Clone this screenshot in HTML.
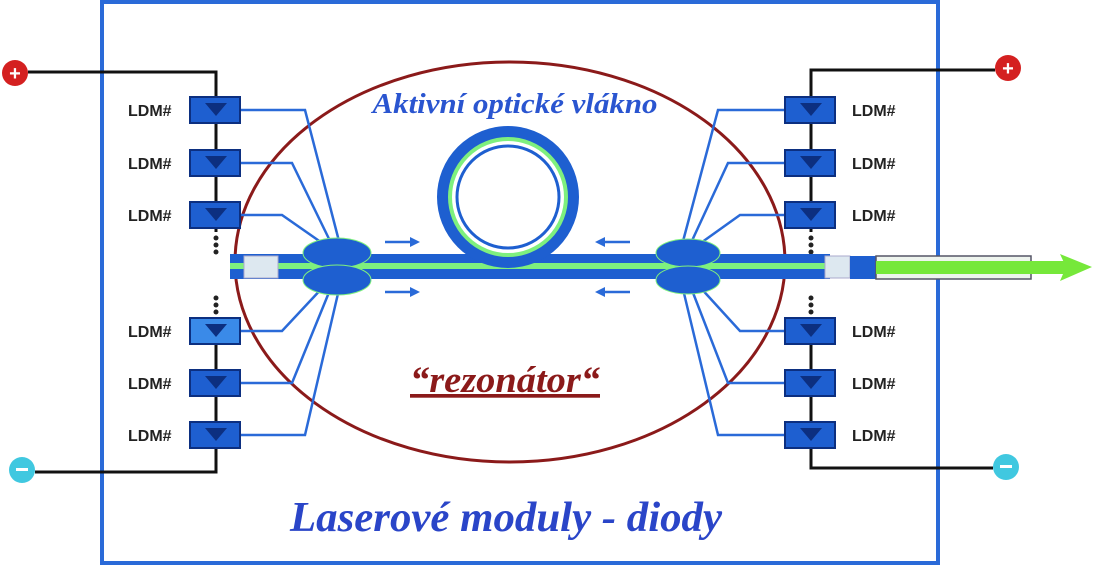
<!DOCTYPE html>
<html><head><meta charset="utf-8"><style>
html,body{margin:0;padding:0;background:#fff;}
svg{display:block;}
</style></head><body>
<svg width="1095" height="567" viewBox="0 0 1095 567" xmlns="http://www.w3.org/2000/svg">
<rect x="102" y="2" width="836" height="561" fill="#fff" stroke="#2a6ad8" stroke-width="4"/>
<ellipse cx="510" cy="262" rx="275" ry="200" fill="none" stroke="#8b1a1a" stroke-width="3"/>
<polyline points="28,72 216,72 216,472 35,472" fill="none" stroke="#111" stroke-width="3"/>
<polyline points="995,70 811,70 811,468 993,468" fill="none" stroke="#111" stroke-width="3"/>
<g fill="#fff" stroke="none"><rect x="206" y="232" width="20" height="88"/><rect x="801" y="232" width="20" height="88"/></g>
<g fill="#222">
<circle cx="216" cy="238" r="2.5"/><circle cx="216" cy="245" r="2.5"/><circle cx="216" cy="252" r="2.5"/>
<circle cx="216" cy="298" r="2.5"/><circle cx="216" cy="305" r="2.5"/><circle cx="216" cy="312" r="2.5"/>
<circle cx="811" cy="238" r="2.5"/><circle cx="811" cy="245" r="2.5"/><circle cx="811" cy="252" r="2.5"/>
<circle cx="811" cy="298" r="2.5"/><circle cx="811" cy="305" r="2.5"/><circle cx="811" cy="312" r="2.5"/>
</g>
<circle cx="15" cy="73" r="13" fill="#d42020"/><text x="15" y="80" font-family="Liberation Sans,sans-serif" font-size="20" font-weight="bold" fill="#fff" text-anchor="middle">+</text>
<circle cx="1008" cy="68" r="13" fill="#d42020"/><text x="1008" y="75" font-family="Liberation Sans,sans-serif" font-size="20" font-weight="bold" fill="#fff" text-anchor="middle">+</text>
<circle cx="22" cy="470" r="13" fill="#40c8e0"/><rect x="16" y="468" width="12" height="3" fill="#fff"/>
<circle cx="1006" cy="467" r="13" fill="#40c8e0"/><rect x="1000" y="465" width="12" height="3" fill="#fff"/>
<g stroke="#2a6ad8" stroke-width="2.5" fill="none">
<polyline points="240,110 305,110 340,245"/><polyline points="240,163 292,163 332,245"/><polyline points="240,215 282,215 325,245"/>
<polyline points="240,331 282,331 325,285"/><polyline points="240,383 292,383 332,285"/><polyline points="240,435 305,435 340,285"/>
<polyline points="785,110 718,110 682,245"/><polyline points="785,163 728,163 690,245"/><polyline points="785,215 740,215 698,245"/>
<polyline points="785,331 740,331 698,285"/><polyline points="785,383 728,383 690,285"/><polyline points="785,435 718,435 682,285"/>
</g>
<rect x="230" y="254" width="600" height="25" fill="#1e5fd0"/>
<rect x="230" y="263" width="600" height="6" fill="#7ef07e"/>
<rect x="244" y="256" width="34" height="22" fill="#dde8f0" stroke="#aac" stroke-width="1"/>
<rect x="825" y="256" width="25" height="22" fill="#dde8f0" stroke="#aac" stroke-width="1"/>
<rect x="850" y="256" width="26" height="23" fill="#1e5fd0"/>
<rect x="876" y="256" width="155" height="23" fill="#eef4ee" stroke="#556" stroke-width="1.5"/>
<rect x="876" y="261" width="190" height="13" fill="#76e83a"/>
<polygon points="1060,254 1092,267 1060,281 1066,267" fill="#76e83a"/>
<circle cx="508" cy="197" r="64" fill="none" stroke="#1e5fd0" stroke-width="14"/>
<circle cx="508" cy="197" r="58" fill="none" stroke="#7ef07e" stroke-width="4"/>
<circle cx="508" cy="197" r="51" fill="none" stroke="#1e5fd0" stroke-width="3"/>
<g fill="#1e5fd0" stroke="#7ef07e" stroke-width="1">
<ellipse cx="337" cy="253" rx="34" ry="15"/><ellipse cx="337" cy="280" rx="34" ry="15"/>
<ellipse cx="688" cy="253" rx="32" ry="14"/><ellipse cx="688" cy="280" rx="32" ry="14"/>
</g>
<g stroke="#2a6ad8" stroke-width="2.5" fill="#2a6ad8">
<line x1="385" y1="242" x2="412" y2="242"/><polygon points="420,242 410,237 410,247" stroke="none"/>
<line x1="385" y1="292" x2="412" y2="292"/><polygon points="420,292 410,287 410,297" stroke="none"/>
<line x1="605" y1="242" x2="630" y2="242"/><polygon points="595,242 605,237 605,247" stroke="none"/>
<line x1="605" y1="292" x2="630" y2="292"/><polygon points="595,292 605,287 605,297" stroke="none"/>
</g>
<g fill="#1e5fd0" stroke="#0c2f80" stroke-width="2">
<rect x="190" y="97" width="50" height="26"/><rect x="190" y="150" width="50" height="26"/><rect x="190" y="202" width="50" height="26"/>
<rect x="190" y="318" width="50" height="26" fill="#3a8ae8"/><rect x="190" y="370" width="50" height="26"/><rect x="190" y="422" width="50" height="26"/>
<rect x="785" y="97" width="50" height="26"/><rect x="785" y="150" width="50" height="26"/><rect x="785" y="202" width="50" height="26"/>
<rect x="785" y="318" width="50" height="26"/><rect x="785" y="370" width="50" height="26"/><rect x="785" y="422" width="50" height="26"/>
</g>
<g fill="#0c2f80">
<polygon points="205,103 227,103 216,116"/><polygon points="205,156 227,156 216,169"/><polygon points="205,208 227,208 216,221"/>
<polygon points="205,324 227,324 216,337"/><polygon points="205,376 227,376 216,389"/><polygon points="205,428 227,428 216,441"/>
<polygon points="800,103 822,103 811,116"/><polygon points="800,156 822,156 811,169"/><polygon points="800,208 822,208 811,221"/>
<polygon points="800,324 822,324 811,337"/><polygon points="800,376 822,376 811,389"/><polygon points="800,428 822,428 811,441"/>
</g>
<g font-family="Liberation Sans,sans-serif" font-weight="bold" font-size="16" fill="#222">
<text x="128" y="116">LDM#</text><text x="128" y="169">LDM#</text><text x="128" y="221">LDM#</text>
<text x="128" y="337">LDM#</text><text x="128" y="389">LDM#</text><text x="128" y="441">LDM#</text>
<text x="852" y="116">LDM#</text><text x="852" y="169">LDM#</text><text x="852" y="221">LDM#</text>
<text x="852" y="337">LDM#</text><text x="852" y="389">LDM#</text><text x="852" y="441">LDM#</text>
</g>
<g font-family="Liberation Serif,serif" font-weight="bold" font-style="italic" text-anchor="middle">
<text x="515" y="113" font-size="29" fill="#2a55d0" textLength="285" lengthAdjust="spacingAndGlyphs">Aktivní optické vlákno</text>
<text x="505" y="392" font-size="37" fill="#8b1a1a" text-decoration="underline" textLength="190" lengthAdjust="spacingAndGlyphs">“rezonátor“</text>
<text x="506" y="531" font-size="42" fill="#2a45c8" textLength="432" lengthAdjust="spacingAndGlyphs">Laserové moduly - diody</text>
</g>
</svg>
</body></html>
